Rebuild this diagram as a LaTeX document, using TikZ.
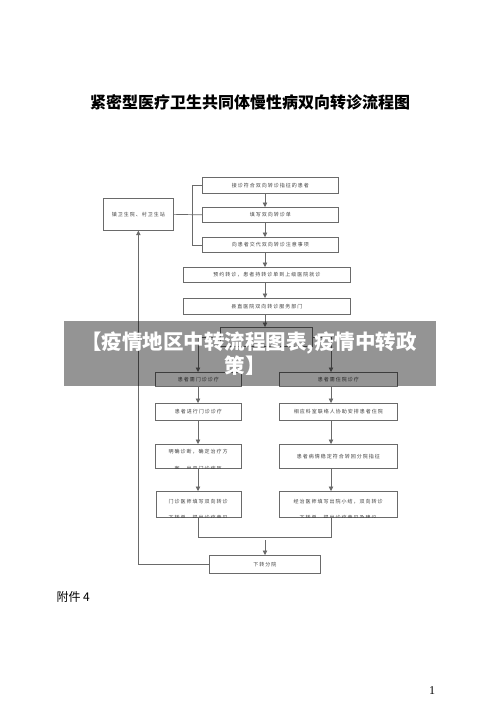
\documentclass[tikz,border=0pt]{standalone}
\usepackage{fontspec}
\setmainfont{Liberation Serif}
\newfontfamily\cjk{Noto Sans CJK SC}
\newfontfamily\cjkbox[LetterSpace=20]{Noto Sans CJK SC}
\usetikzlibrary{arrows.meta}
\definecolor{linec}{HTML}{6A6A6A}
\definecolor{txtc}{HTML}{404040}
\tikzset{
  box/.style={draw=linec, line width=0.7pt, inner sep=0pt, anchor=north west,
    font=\cjkbox\fontsize{5}{6}\selectfont, text=txtc},
  txt/.style={inner sep=0pt, font=\cjkbox\fontsize{5}{6}\selectfont, text=txtc},
  conn/.style={draw=linec, line width=0.7pt},
  arr/.style={conn, -{Triangle[length=4.5pt,width=4.5pt]}},
}
\begin{document}
\begin{tikzpicture}[x=1pt,y=-1pt]
\useasboundingbox (0,0) rectangle (500,706);
\fill[white] (0,0) rectangle (500,706);
% title
\node[font=\cjk\bfseries\fontsize{16}{18}\selectfont, text=black] (title) at (250,102) {紧密型医疗卫生共同体慢性病双向转诊流程图};
% boxes
\node[box, minimum width=136, minimum height=16] (b1) at (202,177) {接诊符合双向转诊指征的患者};
\node[box, minimum width=136, minimum height=15] (b2) at (202,207) {填写双向转诊单};
\node[box, minimum width=136, minimum height=15] (b3) at (202,237) {向患者交代双向转诊注意事项};
\node[box, minimum width=70, minimum height=32] (lb) at (103,198) {镇卫生院、村卫生站};
\node[box, minimum width=167, minimum height=15] (b5) at (183,267) {预约转诊，患者持转诊单到上级医院就诊};
\node[box, minimum width=167, minimum height=16] (b6) at (183,298) {县直医院双向转诊服务部门};
\node[box, minimum width=92, minimum height=19] (bh) at (220,327) {};
\node[box, minimum width=86, minimum height=14] (l1) at (155,372) {患者需门诊诊疗};
\node[box, minimum width=118, minimum height=14] (r1) at (279,372) {患者需住院诊疗};
\node[box, minimum width=86, minimum height=17] (l2) at (155,403) {患者进行门诊诊疗};
\node[box, minimum width=118, minimum height=17] (r2) at (279,403) {相应科室联络人协助安排患者住院};
\node[box, minimum width=86, minimum height=24] (l3) at (155,444) {};
\node[box, minimum width=118, minimum height=24] (r3) at (279,444) {患者病情稳定符合转回分院指征};
\node[box, minimum width=85, minimum height=26] (l4) at (156,491) {};
\node[box, minimum width=118, minimum height=26] (r4) at (279,491) {};
\node[box, minimum width=111, minimum height=18] (d) at (209,555) {下转分院};
% clipped two-line texts
\begin{scope}
\clip (l3.north west) rectangle (l3.south east);
\node[txt] (l3a) at (198,452) {明确诊断，确定治疗方};
\node[txt] (l3b) at (198,469) {案，出具门诊病历};
\end{scope}
\begin{scope}
\clip (l4.north west) rectangle (l4.south east);
\node[txt] (l4a) at (198,502) {门诊医师填写双向转诊};
\node[txt] (l4b) at (198,518) {下转单，提出诊疗意见};
\end{scope}
\begin{scope}
\clip (r4.north west) rectangle (r4.south east);
\node[txt] (r4a) at (338,502) {经治医师填写出院小结，双向转诊};
\node[txt] (r4b) at (338,518) {下转单，提出诊疗意见及建议};
\end{scope}
% helper coordinates
\coordinate (xm) at (265,0);
\coordinate (xl) at (198,0);
\coordinate (xr) at (331,0);
\coordinate (xb) at (192,0);
\coordinate (j) at (265,540);
% connectors
\draw[conn] (lb.east) -- (b2.west);
\draw[conn] (b1.west) -- (b1.west -| xb) -- (b3.west -| xb) -- (b3.west);
\draw[arr] (b1.south -| xm) -- (b2.north -| xm);
\draw[arr] (b2.south -| xm) -- (b3.north -| xm);
\draw[arr] (b3.south -| xm) -- (b5.north -| xm);
\draw[arr] (b5.south -| xm) -- (b6.north -| xm);
\draw[arr] (b6.south -| xm) -- (bh.north -| xm);
\draw[arr] (bh.west) -| (l1.north -| xl);
\draw[arr] (bh.east) -| (r1.north -| xr);
\draw[arr] (l1.south -| xl) -- (l2.north -| xl);
\draw[arr] (l2.south -| xl) -- (l3.north -| xl);
\draw[arr] (l3.south -| xl) -- (l4.north -| xl);
\draw[arr] (r1.south -| xr) -- (r2.north -| xr);
\draw[arr] (r2.south -| xr) -- (r3.north -| xr);
\draw[arr] (r3.south -| xr) -- (r4.north -| xr);
\draw[conn] (l4.south -| xl) -- ++(0,20) -| (r4.south -| xr);
\draw[arr] (j) -- (d.north -| xm);
\draw[arr] (d.west) -| (lb.south);
% footer
\node[font=\cjk\fontsize{12}{14}\selectfont, anchor=west] (att) at (53,597) {附件 4};
\node[font=\fontsize{12}{14}\selectfont] (pg) at (432,691) {1};
% banner
\fill[black, fill opacity=0.42] (64,321) rectangle (436,386);
\node[font=\cjk\bfseries\fontsize{20.5}{24}\selectfont, text=white] (ban1) at (249,343) {【疫情地区中转流程图表,疫情中转政};
\node[font=\cjk\bfseries\fontsize{20.5}{24}\selectfont, text=white] (ban2) at (245,366) {策】};
\end{tikzpicture}
\end{document}
